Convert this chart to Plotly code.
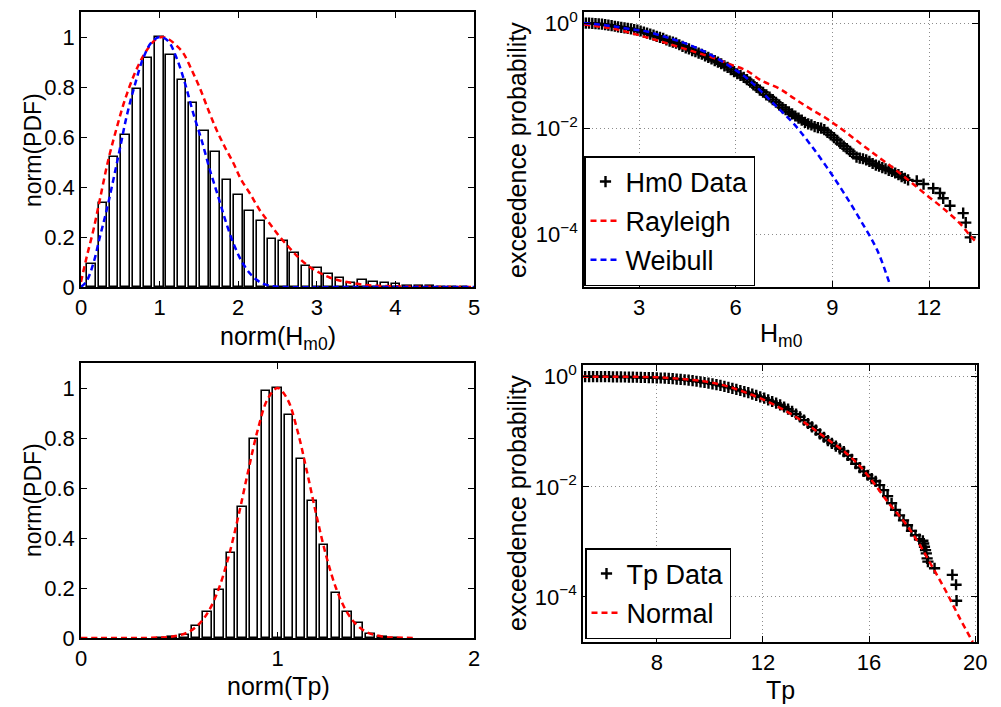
import numpy as np
import plotly.graph_objects as go

# ---------------- data ----------------
# Top-left: normalised histogram of Hm0
hm0_bin_centers = [0.136, 0.279, 0.423, 0.566, 0.710, 0.853, 0.997, 1.140, 1.284, 1.427,
                   1.571, 1.714, 1.858, 2.001, 2.145, 2.288, 2.432, 2.575, 2.719, 2.862,
                   3.006, 3.149, 3.293, 3.436, 3.580, 3.723, 3.867, 4.010, 4.154, 4.297,
                   4.441, 4.584, 4.728, 4.871]
hm0_hist = [0.094, 0.337, 0.521, 0.608, 0.793, 0.916, 1.0, 0.929, 0.829, 0.738,
            0.626, 0.541, 0.428, 0.368, 0.303, 0.263, 0.194, 0.184, 0.137, 0.086,
            0.075, 0.053, 0.035, 0.017, 0.028, 0.021, 0.017, 0.011, 0.005, 0.004,
            0.003, 0.002, 0.002, 0.001]
rayleigh_pdf_x = [0, 0.072, 0.157, 0.24, 0.347, 0.453, 0.559, 0.686, 0.814, 0.95, 1.03, 1.12,
                  1.2, 1.30, 1.407, 1.513, 1.619, 1.725, 1.83, 1.94, 2.04, 2.15, 2.275, 2.40,
                  2.53, 2.66, 2.78, 2.91, 3.04, 3.17, 3.33, 3.55, 3.76, 3.97, 4.3, 5.0]
rayleigh_pdf_y = [0.02, 0.12, 0.227, 0.35, 0.508, 0.635, 0.749, 0.856, 0.936, 0.99, 1.0, 0.99,
                  0.97, 0.936, 0.869, 0.795, 0.709, 0.628, 0.56, 0.495, 0.428, 0.374, 0.307, 0.254,
                  0.20, 0.154, 0.114, 0.08, 0.056, 0.037, 0.023, 0.011, 0.005, 0.003, 0.001, 0.0]
weibull_pdf_x = [0, 0.072, 0.157, 0.24, 0.326, 0.411, 0.496, 0.58, 0.686, 0.792, 0.898, 1.004,
                 1.11, 1.216, 1.322, 1.428, 1.534, 1.64, 1.746, 1.85, 1.958, 2.06, 2.17, 2.275,
                 2.40, 2.61, 3.5, 5.0]
weibull_pdf_y = [0, 0.024, 0.094, 0.20, 0.307, 0.428, 0.555, 0.682, 0.809, 0.916, 0.979, 1.0,
                 0.983, 0.916, 0.816, 0.695, 0.588, 0.468, 0.361, 0.254, 0.16, 0.094, 0.047, 0.02,
                 0.005, 0.0, 0.0, 0.0]

# Bottom-left: normalised histogram of Tp
tp_bin_centers = [0.407, 0.466, 0.526, 0.585, 0.644, 0.704, 0.763, 0.822, 0.881, 0.941, 1.0,
                  1.059, 1.119, 1.178, 1.237, 1.297, 1.356, 1.415, 1.474, 1.534, 1.593]
tp_hist = [0.001, 0.004, 0.011, 0.049, 0.106, 0.191, 0.34, 0.524, 0.795, 0.99, 1.0,
           0.891, 0.717, 0.55, 0.371, 0.182, 0.106, 0.060, 0.016, 0.004, 0.001]
normal_pdf_x = [0, 0.1, 0.2, 0.3, 0.4, 0.45, 0.5, 0.55, 0.6, 0.65, 0.7, 0.75, 0.8, 0.85, 0.9, 0.95,
                1.0, 1.05, 1.1, 1.15, 1.2, 1.25, 1.3, 1.35, 1.4, 1.45, 1.5, 1.55, 1.6, 1.7]
normal_pdf_y = [0, 0, 0, 0, 0.002, 0.004, 0.011, 0.025, 0.055, 0.108, 0.195, 0.322, 0.484, 0.665,
                0.834, 0.956, 1.0, 0.956, 0.834, 0.665, 0.484, 0.322, 0.195, 0.108, 0.055, 0.025,
                0.011, 0.004, 0.002, 0]

# Top-right: exceedance probability of Hm0 (log10 of probability)
hm0_x = [1.35, 1.45, 1.55, 1.65, 1.75, 1.85, 1.95, 2.05, 2.15, 2.25, 2.35, 2.45, 2.55, 2.65,
         2.75, 2.85, 2.95, 3.05, 3.15, 3.25, 3.35, 3.45, 3.55, 3.65, 3.75, 3.85, 3.95, 4.05,
         4.15, 4.25, 4.35, 4.45, 4.55, 4.65, 4.75, 4.85, 4.95, 5.05, 5.15, 5.25, 5.35, 5.45,
         5.55, 5.65, 5.75, 5.85, 5.95, 6.05, 6.15, 6.25, 6.35, 6.45, 6.55, 6.65, 6.75, 6.85,
         6.95, 7.05, 7.15, 7.25, 7.35, 7.45, 7.55, 7.65, 7.75, 7.85, 7.95, 8.05, 8.15, 8.25,
         8.35, 8.45, 8.55, 8.65, 8.75, 8.85, 8.95, 9.05, 9.15, 9.25, 9.35, 9.45, 9.55, 9.65,
         9.75, 9.85, 9.95, 10.05, 10.15, 10.25, 10.35, 10.45, 10.55, 10.65, 10.75, 10.85,
         10.95, 11.05, 11.15, 11.25, 11.35, 11.62, 11.83, 12.13, 12.34, 12.44, 12.65, 13.06,
         13.14, 13.28]
hm0_log10p = [0.0, 0.0, -0.005, -0.01, -0.015, -0.02, -0.03, -0.04, -0.05, -0.06, -0.07, -0.08,
              -0.09, -0.10, -0.11, -0.125, -0.135, -0.15, -0.17, -0.19, -0.21, -0.23, -0.25,
              -0.27, -0.29, -0.32, -0.34, -0.36, -0.38, -0.41, -0.44, -0.47, -0.49, -0.52, -0.54,
              -0.57, -0.59, -0.62, -0.65, -0.68, -0.71, -0.74, -0.77, -0.81, -0.84, -0.88, -0.92,
              -0.96, -0.99, -1.03, -1.07, -1.12, -1.17, -1.22, -1.27, -1.31, -1.36, -1.40, -1.45,
              -1.50, -1.55, -1.60, -1.64, -1.68, -1.72, -1.76, -1.80, -1.84, -1.88, -1.91, -1.93,
              -1.96, -1.98, -1.99, -2.02, -2.07, -2.12, -2.17, -2.22, -2.28, -2.33, -2.38, -2.43,
              -2.48, -2.54, -2.56, -2.57, -2.59, -2.62, -2.66, -2.69, -2.71, -2.74, -2.76, -2.79,
              -2.81, -2.84, -2.87, -2.91, -2.94, -2.97, -2.99, -3.05, -3.13, -3.22, -3.32, -3.46,
              -3.60, -3.78, -4.06]
rayleigh_x = [1.29, 1.8, 2.2, 2.7, 3.24, 3.75, 4.27, 4.8, 5.31, 5.82, 6.34, 6.8, 7.38, 7.82,
              8.33, 8.85, 9.36, 9.87, 10.39, 10.9, 11.41, 11.93, 12.44, 12.95, 13.28, 13.5]
rayleigh_log10p = [-0.025, -0.07, -0.107, -0.18, -0.27, -0.36, -0.46, -0.56, -0.66, -0.78,
                   -0.90, -1.09, -1.25, -1.43, -1.63, -1.82, -2.04, -2.28, -2.52, -2.75, -3.0,
                   -3.26, -3.51, -3.79, -4.03, -4.17]
weibull_x = [1.29, 1.8, 2.2, 2.7, 3.24, 3.75, 4.27, 4.79, 5.31, 5.82, 6.34, 6.8, 7.3, 7.82,
             8.33, 8.85, 9.36, 9.87, 10.39, 10.8]
weibull_log10p = [0.0, -0.03, -0.06, -0.11, -0.16, -0.25, -0.35, -0.47, -0.63, -0.82, -1.04,
                  -1.30, -1.60, -1.92, -2.31, -2.75, -3.22, -3.73, -4.30, -4.98]

# Bottom-right: exceedance probability of Tp (log10 of probability)
tp_x = [5.30, 5.45, 5.60, 5.75, 5.90, 6.05, 6.20, 6.35, 6.50, 6.65, 6.80, 6.95, 7.10, 7.25,
        7.40, 7.55, 7.70, 7.85, 8.00, 8.15, 8.30, 8.45, 8.60, 8.75, 8.90, 9.05, 9.20, 9.35,
        9.50, 9.65, 9.80, 9.95, 10.10, 10.25, 10.40, 10.55, 10.70, 10.85, 11.00, 11.15, 11.30,
        11.45, 11.60, 11.75, 11.90, 12.05, 12.20, 12.35, 12.50, 12.65, 12.80, 12.95, 13.10,
        13.25, 13.40, 13.55, 13.70, 13.85, 14.00, 14.15, 14.30, 14.45, 14.60, 14.75, 14.90,
        15.05, 15.20, 15.35, 15.50, 15.65, 15.80, 15.95, 16.10, 16.25, 16.40, 16.55, 16.70,
        16.85, 17.00, 17.15, 17.30, 17.45, 17.60, 17.75, 17.90, 18.03, 18.06, 18.09, 18.13,
        18.16, 18.19, 18.22, 18.47, 19.14, 19.28, 19.30]
tp_log10p = [0.0, 0.0, 0.0, 0.0, 0.0, 0.0, 0.0, -0.002, -0.003, -0.004, -0.005, -0.006, -0.008,
             -0.01, -0.012, -0.014, -0.016, -0.018, -0.02, -0.023, -0.027, -0.031, -0.036,
             -0.042, -0.048, -0.055, -0.063, -0.072, -0.082, -0.093, -0.105, -0.117, -0.13,
             -0.144, -0.159, -0.175, -0.192, -0.21, -0.23, -0.25, -0.27, -0.29, -0.315, -0.34,
             -0.365, -0.39, -0.42, -0.45, -0.48, -0.51, -0.55, -0.59, -0.63, -0.68, -0.73,
             -0.79, -0.85, -0.91, -0.97, -1.04, -1.10, -1.16, -1.21, -1.26, -1.31, -1.36,
             -1.43, -1.50, -1.58, -1.65, -1.72, -1.79, -1.85, -1.90, -1.97, -2.06, -2.17,
             -2.30, -2.42, -2.52, -2.61, -2.70, -2.80, -2.88, -2.95, -2.98, -3.03, -3.09,
             -3.15, -3.21, -3.30, -3.36, -3.48, -3.60, -3.78, -4.07]
normal_x = [5.2, 8.0, 9.38, 10.0, 10.63, 11.26, 11.89, 12.51, 13.14, 13.77, 14.39, 15.12,
            15.65, 16.0, 16.75, 17.38, 17.88, 18.38, 18.88, 19.39, 19.91]
normal_log10p = [0.0, -0.01, -0.06, -0.10, -0.17, -0.27, -0.39, -0.53, -0.70, -0.90, -1.12,
                 -1.38, -1.62, -1.82, -2.30, -2.67, -3.03, -3.45, -3.88, -4.36, -4.82]

# ---------------- styling ----------------
W, H = 1001, 707
FONT = "Liberation Sans, Arial, Helvetica, sans-serif"
RED, BLUE = "#ff0000", "#0000ff"
DASH = "6px,4px"


def fx(p):
    return p / W


def fy(p):
    return 1 - p / H


def pw(a):
    return 10 ** np.asarray(a, dtype=float)


data_marker = dict(symbol="cross-thin", size=8, color="black", line=dict(color="black", width=2.4))

fig = go.Figure()

# top-left
fig.add_trace(go.Bar(x=hm0_bin_centers, y=hm0_hist, width=0.108,
                     marker=dict(color="white", line=dict(color="black", width=1.6)),
                     xaxis="x", yaxis="y", showlegend=False))
fig.add_trace(go.Scatter(x=rayleigh_pdf_x, y=rayleigh_pdf_y, mode="lines",
                         line=dict(color=RED, width=2.5, dash=DASH, shape="spline"),
                         xaxis="x", yaxis="y", showlegend=False))
fig.add_trace(go.Scatter(x=weibull_pdf_x, y=weibull_pdf_y, mode="lines",
                         line=dict(color=BLUE, width=2.5, dash=DASH, shape="spline"),
                         xaxis="x", yaxis="y", showlegend=False))

# top-right
fig.add_trace(go.Scatter(x=hm0_x, y=pw(hm0_log10p), mode="markers", name="Hm0 Data",
                         marker=data_marker,
                         xaxis="x2", yaxis="y2", legend="legend", legendgroup="a"))
fig.add_trace(go.Scatter(x=rayleigh_x, y=pw(rayleigh_log10p), mode="lines", name="Rayleigh",
                         line=dict(color=RED, width=2.5, dash=DASH, shape="spline"),
                         xaxis="x2", yaxis="y2", legend="legend", legendgroup="b"))
fig.add_trace(go.Scatter(x=weibull_x, y=pw(weibull_log10p), mode="lines", name="Weibull",
                         line=dict(color=BLUE, width=2.5, dash=DASH, shape="spline"),
                         xaxis="x2", yaxis="y2", legend="legend", legendgroup="c"))

# bottom-left
fig.add_trace(go.Bar(x=tp_bin_centers, y=tp_hist, width=0.044,
                     marker=dict(color="white", line=dict(color="black", width=1.6)),
                     xaxis="x3", yaxis="y3", showlegend=False))
fig.add_trace(go.Scatter(x=normal_pdf_x, y=normal_pdf_y, mode="lines",
                         line=dict(color=RED, width=2.5, dash=DASH, shape="spline"),
                         xaxis="x3", yaxis="y3", showlegend=False))

# bottom-right
fig.add_trace(go.Scatter(x=tp_x, y=pw(tp_log10p), mode="markers", name="Tp Data",
                         marker=data_marker,
                         xaxis="x4", yaxis="y4", legend="legend2", legendgroup="d"))
fig.add_trace(go.Scatter(x=normal_x, y=pw(normal_log10p), mode="lines", name="Normal",
                         line=dict(color=RED, width=2.5, dash=DASH, shape="spline"),
                         xaxis="x4", yaxis="y4", legend="legend2", legendgroup="e"))

base = dict(showline=True, linecolor="black", linewidth=1.5, mirror="allticks",
            ticks="inside", ticklen=6, tickwidth=1.2, tickcolor="black",
            tickfont=dict(family=FONT, size=22, color="black"), zeroline=False,
            showgrid=False, automargin=False, fixedrange=True)
grid = dict(showgrid=True, gridcolor="#8c8c8c", gridwidth=1, griddash="1px,3px")

top = [fy(287), fy(12)]
left = [fx(81), fx(474)]
right = [fx(584), fx(978)]
pdf_ticks = [0, 0.2, 0.4, 0.6, 0.8, 1]
pdf_labels = ["0", "0.2", "0.4", "0.6", "0.8", "1"]
log_ticks = [1e-4, 1e-2, 1]
log_labels = ["10<sup>\u22124</sup>", "10<sup>\u22122</sup>", "10<sup>0</sup>"]

legend_style = dict(xanchor="left", yanchor="bottom", bgcolor="white", bordercolor="black",
                    borderwidth=1.5, traceorder="grouped", tracegroupgap=1, itemwidth=30,
                    font=dict(family=FONT, size=27, color="black"))

fig.update_layout(
    width=W, height=H, margin=dict(l=0, r=0, t=0, b=0),
    paper_bgcolor="white", plot_bgcolor="white", bargap=0,
    xaxis=dict(base, domain=left, anchor="y", range=[0, 5], tickvals=[0, 1, 2, 3, 4, 5]),
    yaxis=dict(base, domain=top, anchor="x", range=[0, 1.1], tickvals=pdf_ticks, ticktext=pdf_labels),
    xaxis2=dict(base, **grid, domain=right, anchor="y2", range=[1.293, 13.52],
                tickvals=[3, 6, 9, 12]),
    yaxis2=dict(base, **grid, domain=top, anchor="x2", type="log", range=[-5.0, 0.21],
                tickvals=log_ticks, ticktext=log_labels),
    xaxis3=dict(base, domain=left, anchor="y3", range=[0, 2], tickvals=[0, 1, 2]),
    yaxis3=dict(base, domain=[fy(638), fy(363)], anchor="x3", range=[0, 1.1],
                tickvals=pdf_ticks, ticktext=pdf_labels),
    xaxis4=dict(base, **grid, domain=[fx(583), fx(977)], anchor="y4", range=[5.22, 20.07],
                tickvals=[8, 12, 16, 20]),
    yaxis4=dict(base, **grid, domain=[fy(642), fy(365)], anchor="x4", type="log",
                range=[-4.82, 0.213], tickvals=log_ticks, ticktext=log_labels),
    legend=dict(legend_style, x=fx(584), y=fy(286)),
    legend2=dict(legend_style, x=fx(585), y=fy(639)),
)

ann = [
    dict(text="norm(PDF)", x=fx(33), y=fy(150), textangle=-90, size=23),
    dict(text="norm(H<sub>m0</sub>)", x=fx(278), y=fy(338), size=25),
    dict(text="exceedence probability", x=fx(517), y=fy(150), textangle=-90, size=25),
    dict(text="H<sub>m0</sub>", x=fx(781), y=fy(335), size=25),
    dict(text="norm(PDF)", x=fx(33), y=fy(500), textangle=-90, size=23),
    dict(text="norm(Tp)", x=fx(278), y=fy(686), size=25),
    dict(text="exceedence probability", x=fx(517), y=fy(503), textangle=-90, size=25),
    dict(text="Tp", x=fx(780), y=fy(690), size=25),
]
for a in ann:
    size = a.pop("size")
    fig.add_annotation(xref="paper", yref="paper", showarrow=False,
                       font=dict(family=FONT, size=size, color="black"),
                       xanchor="center", yanchor="middle", **a)

fig.write_html("out.html")
